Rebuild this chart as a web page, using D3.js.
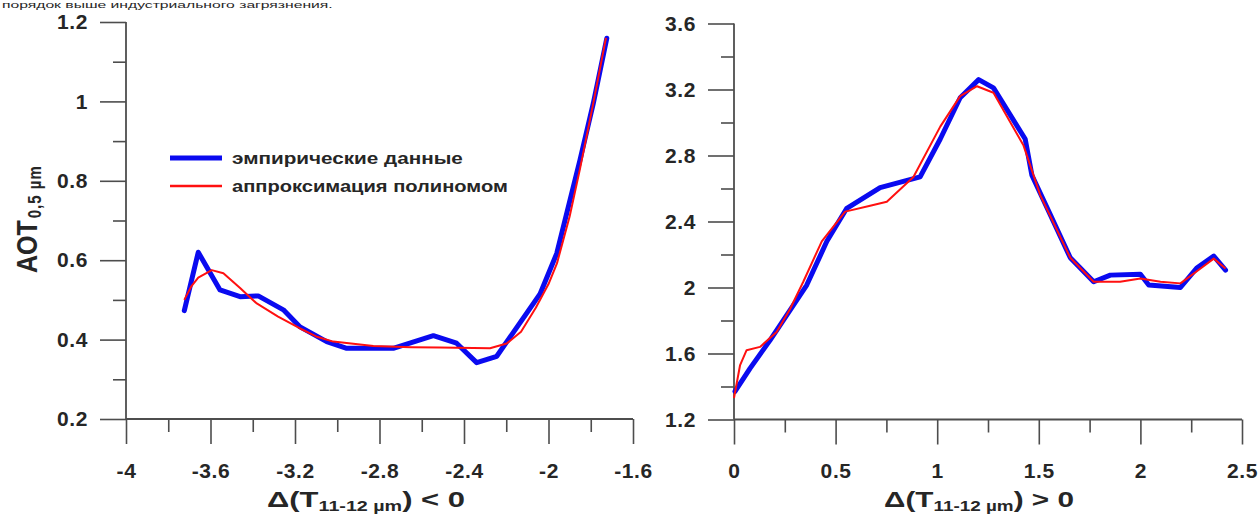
<!DOCTYPE html>
<html><head><meta charset="utf-8">
<script src="https://cdn.jsdelivr.net/npm/d3@7"></script>
<style>
body{margin:0;background:#fff;}
svg{display:block;}
text{font-family:"Liberation Sans",Arial,sans-serif;fill:#262626;}
</style>
</head><body>
<svg id="chart" width="1259" height="515"></svg>
<script>
// ---- data ----
const leftEmpX = [-3.724,-3.658,-3.555,-3.46,-3.374,-3.255,-3.176,-3.05,-2.955,-2.735,-2.545,-2.435,-2.34,-2.245,-2.04,-1.961,-1.851,-1.788,-1.724];
const leftEmpY = [0.473,0.62,0.525,0.508,0.51,0.475,0.432,0.395,0.378,0.378,0.41,0.391,0.342,0.358,0.515,0.617,0.852,0.995,1.159];
const leftFitX = [-3.724,-3.69,-3.658,-3.594,-3.539,-3.46,-3.381,-3.28,-3.176,-3.1,-3.019,-2.829,-2.65,-2.514,-2.277,-2.198,-2.13,-2.06,-2.0,-1.96,-1.9,-1.851,-1.79,-1.728];
const leftFitY = [0.50,0.535,0.556,0.575,0.567,0.53,0.491,0.458,0.428,0.408,0.395,0.384,0.381,0.38,0.378,0.39,0.42,0.48,0.54,0.592,0.71,0.83,0.99,1.16];

const rightEmpX = [0.005,0.079,0.177,0.358,0.457,0.555,0.719,0.916,1.015,1.113,1.204,1.277,1.433,1.466,1.557,1.655,1.77,1.852,2.0,2.041,2.197,2.279,2.361,2.419];
const rightEmpY = [1.37,1.51,1.68,2.015,2.28,2.48,2.605,2.67,2.90,3.15,3.26,3.21,2.90,2.68,2.44,2.18,2.035,2.075,2.08,2.015,2.0,2.12,2.19,2.105];
const rightFitX = [0.0,0.03,0.062,0.128,0.21,0.276,0.341,0.432,0.547,0.67,0.752,0.883,1.015,1.113,1.196,1.277,1.425,1.507,1.655,1.77,1.9,2.0,2.099,2.197,2.296,2.361,2.419];
const rightFitY = [1.33,1.53,1.62,1.64,1.73,1.87,2.035,2.28,2.46,2.495,2.52,2.67,2.975,3.16,3.22,3.18,2.86,2.56,2.18,2.035,2.035,2.055,2.035,2.025,2.115,2.175,2.115];

const leftXTicks = [-4,-3.6,-3.2,-2.8,-2.4,-2,-1.6];
const leftYTicks = [0.2,0.4,0.6,0.8,1,1.2];
const rightXTicks = [0,0.5,1,1.5,2,2.5];
const rightYTicks = [1.2,1.6,2,2.4,2.8,3.2,3.6];

const legendLabels = ["эмпирические данные","аппроксимация полиномом"];
const yTitleMain = "AOT", yTitleSub = "0,5 µm";
const xTitleSub = "11-12 µm";
const topText = "порядок выше индустриального загрязнения.";

const BLUE = "#0a0af0", RED = "#ff1010", AXIS = "#4d4d4d";

const svg = d3.select("#chart");

function mids(arr){ const m=[]; for(let i=0;i<arr.length-1;i++) m.push((arr[i]+arr[i+1])/2); return m; }
function fmt(d){ return String(+d.toFixed(2)); }

function stretchTo(sel, width){
  const w = sel.node().getBBox().width;
  return width / w;
}

function panel(cfg){
  const {x, y, xT, yT} = cfg;
  const g = svg.append("g");
  const [x0,x1] = x.range(), [yb,yt] = y.range();
  // minor ticks
  g.append("g").attr("transform",`translate(0,${yb})`)
    .call(d3.axisBottom(x).tickValues(mids(xT)).tickSize(13).tickFormat(""));
  g.append("g").attr("transform",`translate(${x0},0)`)
    .call(d3.axisLeft(y).tickValues(mids(yT)).tickSize(13).tickFormat(""));
  // major ticks with labels
  g.append("g").attr("class","xmaj").attr("transform",`translate(0,${yb})`)
    .call(d3.axisBottom(x).tickValues(xT).tickSize(25).tickPadding(19).tickFormat(fmt));
  g.append("g").attr("class","ymaj").attr("transform",`translate(${x0},0)`)
    .call(d3.axisLeft(y).tickValues(yT).tickSize(26).tickPadding(12).tickFormat(fmt));
  g.selectAll(".domain").remove();
  g.selectAll(".tick line").attr("stroke",AXIS).attr("stroke-width",1.6);
  g.selectAll(".tick text").attr("font-size",21).attr("font-weight","bold")
    .attr("fill","#262626").attr("font-family","'Liberation Sans',Arial,sans-serif")
    .style("letter-spacing","0.6px");
  // axis lines
  g.append("line").attr("x1",x0).attr("x2",x1).attr("y1",yb).attr("y2",yb)
    .attr("stroke",AXIS).attr("stroke-width",1.8);
  g.append("line").attr("x1",x0).attr("x2",x0).attr("y1",yt).attr("y2",yb)
    .attr("stroke",AXIS).attr("stroke-width",1.8);

  const line = d3.line().x(d=>x(d[0])).y(d=>y(d[1]));
  g.append("path").datum(d3.zip(cfg.empX,cfg.empY)).attr("d",line)
    .attr("fill","none").attr("stroke",BLUE).attr("stroke-width",5)
    .attr("stroke-linejoin","round").attr("stroke-linecap","round");
  g.append("path").datum(d3.zip(cfg.fitX,cfg.fitY)).attr("d",line)
    .attr("fill","none").attr("stroke",RED).attr("stroke-width",2)
    .attr("stroke-linejoin","round");

  // x title
  const tg = g.append("g");
  const t = tg.append("text").attr("font-weight","bold").attr("font-size",22).attr("text-anchor","middle");
  t.append("tspan").text("Δ(T");
  t.append("tspan").attr("font-size",14).attr("dy",4).text(xTitleSub);
  t.append("tspan").attr("dy",-4).text(cfg.xTitleEnd);
  const s = stretchTo(t, cfg.titleW);
  tg.attr("transform",`translate(${cfg.titleCx},${cfg.titleBase}) scale(${s},1)`);
}

const xL = d3.scaleLinear().domain([-4,-1.6]).range([126,633]);
const yL = d3.scaleLinear().domain([0.2,1.2]).range([419,22]);
const xR = d3.scaleLinear().domain([0,2.5]).range([734,1242]);
const yR = d3.scaleLinear().domain([1.2,3.6]).range([419.5,23.5]);

panel({x:xL,y:yL,xT:leftXTicks,yT:leftYTicks,empX:leftEmpX,empY:leftEmpY,fitX:leftFitX,fitY:leftFitY,
       xTitleEnd:") < 0", titleCx:366, titleBase:507, titleW:198});
panel({x:xR,y:yR,xT:rightXTicks,yT:rightYTicks,empX:rightEmpX,empY:rightEmpY,fitX:rightFitX,fitY:rightFitY,
       xTitleEnd:") > 0", titleCx:979, titleBase:507, titleW:190});

// y title (rotated)
const yt = svg.append("text").attr("font-weight","bold").attr("font-size",25)
  .attr("transform","translate(37,273) rotate(-90) scale(1,1.2)");
yt.append("tspan").text(yTitleMain);
yt.append("tspan").attr("font-size",15).attr("dy",3).attr("dx",2).style("letter-spacing","1px").text(yTitleSub);

// legend
const leg = svg.append("g");
[[BLUE,5,158],[RED,2.5,186]].forEach((c,i)=>{
  leg.append("line").attr("x1",170).attr("x2",222).attr("y1",c[2]).attr("y2",c[2])
    .attr("stroke",c[0]).attr("stroke-width",c[1]);
  const lg = leg.append("g");
  const tx = lg.append("text").attr("font-size",17).attr("font-weight","bold").text(legendLabels[i]);
  const sc = stretchTo(tx, i===0?231:276);
  lg.attr("transform",`translate(232,${c[2]+5.5}) scale(${sc},1)`);
});

// line of document text above the chart
const tt = svg.append("g");
const ttx = tt.append("text").attr("font-family","'Liberation Serif','Times New Roman',serif")
  .attr("font-size",10).attr("fill","#111").text(topText);
tt.attr("transform",`translate(2,7.7) scale(${stretchTo(ttx,331)},0.85)`);
</script>
</body></html>
